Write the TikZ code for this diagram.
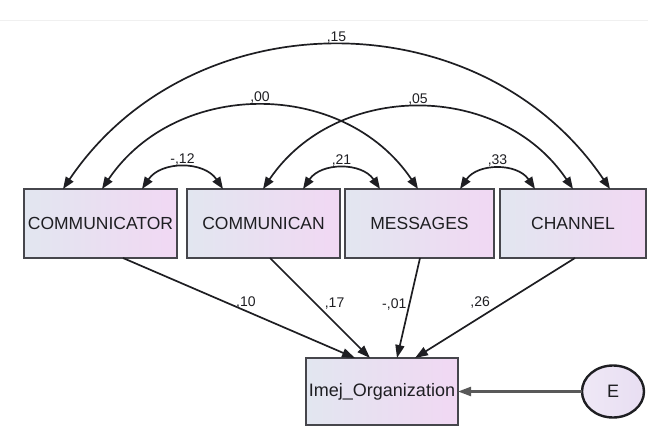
\documentclass[tikz,border=0pt]{standalone}
\usepackage{fontspec}
\setmainfont{Liberation Sans}
\usetikzlibrary{arrows.meta,shapes.geometric}
\definecolor{boxL}{RGB}{226,230,240}
\definecolor{boxR}{RGB}{241,216,243}
\definecolor{ink}{RGB}{30,30,34}
\definecolor{edgec}{RGB}{70,70,76}
\definecolor{ecirc}{RGB}{232,222,242}
\begin{document}
\begin{tikzpicture}[x=1pt,y=1pt,
  var/.style={draw=edgec, line width=2pt, left color=boxL, right color=boxR,
    minimum height=69pt, inner sep=0pt, outer sep=0pt,
    font=\fontsize{17.5}{19}\selectfont, text=ink},
  cov/.style={draw=ink, line width=1.7pt,
    {Triangle[length=12pt,width=9pt]}-{Triangle[length=12pt,width=9pt]},
    bend left=56, looseness=1.08},
  reg/.style={draw=ink, line width=1.7pt, -{Triangle[length=13pt,width=9pt]}},
  lab/.style={font=\fontsize{14}{16}\selectfont, text=ink, inner sep=2pt}]
\useasboundingbox (0,0) rectangle (648,-428);
\draw[gray!12, line width=0.8pt] (0,-20) -- (648,-20);

\node[var, minimum width=153pt] (c1) at (100.5,-223.5) {COMMUNICATOR};
\node[var, minimum width=153pt] (c2) at (263.5,-223.5) {COMMUNICAN};
\node[var, minimum width=149pt] (c3) at (419.5,-223.5) {MESSAGES};
\node[var, minimum width=146pt] (c4) at (573,-223.5) {CHANNEL};
\node[var, minimum width=152pt, minimum height=67pt, font=\fontsize{18}{20}\selectfont] (io) at (382,-391.5) {Imej\_Organization};
\node[ellipse, draw=ink, line width=2.4pt, left color=ecirc!70!white, right color=ecirc, minimum width=62pt, minimum height=52pt,
  inner sep=0pt, outer sep=0pt, font=\fontsize{18}{20}\selectfont, text=ink] (E) at (613,-391.5) {E};

% covariances
\draw[cov] ([xshift=39pt]c1.north west) to node[lab, above]{,15} ([xshift=110pt]c4.north west);
\draw[cov] ([xshift=78pt]c1.north west) to node[lab, above]{,00} ([xshift=73pt]c3.north west);
\draw[cov] ([xshift=76pt]c2.north west) to node[lab, above]{,05} ([xshift=73pt]c4.north west);
\draw[cov] ([xshift=118pt]c1.north west) to node[lab, above]{-,12} ([xshift=36pt]c2.north west);
\draw[cov] ([xshift=116pt]c2.north west) to node[lab, above]{,21} ([xshift=35pt]c3.north west);
\draw[cov] ([xshift=115pt]c3.north west) to node[lab, above]{,33} ([xshift=35pt]c4.north west);

% regressions
\draw[reg] ([xshift=99pt]c1.south west) -- node[lab, pos=0.53, above]{,10} ([xshift=49pt]io.north west);
\draw[reg] ([xshift=83pt]c2.south west) -- node[lab, pos=0.53, above right, inner sep=1pt]{,17} ([xshift=64pt]io.north west);
\draw[reg] ([xshift=75pt]c3.south west) -- node[lab, pos=0.47, left]{-,01} ([xshift=91pt]io.north west);
\draw[reg] ([xshift=75pt]c4.south west) -- node[lab, pos=0.52, above left, inner sep=1pt]{,26} ([xshift=109pt]io.north west);
\draw[reg, draw=gray!70!black, line width=2.2pt] (E) -- (io);
\end{tikzpicture}
\end{document}
